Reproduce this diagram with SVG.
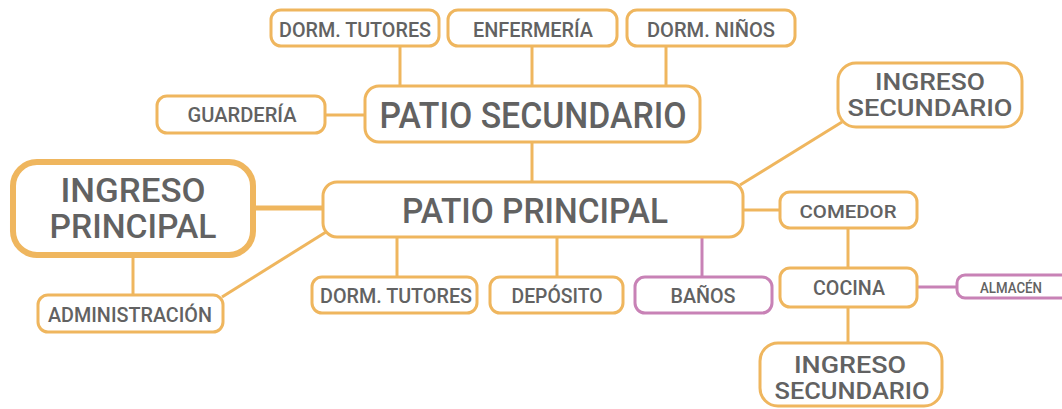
<svg xmlns="http://www.w3.org/2000/svg" width="1062" height="409" viewBox="0 0 1062 409">
<style>
.b{fill:#fff;stroke:#EFB65E;stroke-width:3}
.p{fill:#fff;stroke:#C882B6;stroke-width:3}
.c{stroke:#EFB65E;stroke-width:3;fill:none}
.cp{stroke:#C882B6;stroke-width:3;fill:none}
text{font-family:Roboto,"Liberation Sans",sans-serif;fill:#626262;text-anchor:middle;font-weight:500}
.s{font-size:21px}
.l{font-size:36px}
.m{font-size:24px}
</style>
<rect width="1062" height="409" fill="#fff"/>
<g id="connectors">
<line class="c" x1="400" y1="46" x2="400" y2="87"/>
<line class="c" x1="532" y1="46" x2="532" y2="87"/>
<line class="c" x1="666" y1="46" x2="666" y2="87"/>
<line class="c" x1="325" y1="115" x2="366" y2="115"/>
<line class="c" x1="532" y1="142" x2="532" y2="183"/>
<line class="c" x1="253" y1="208" x2="324" y2="208" style="stroke-width:5"/>
<line class="c" x1="133" y1="255" x2="133" y2="295"/>
<line class="c" x1="222" y1="297" x2="326" y2="232"/>
<line class="c" x1="397" y1="237" x2="397" y2="277"/>
<line class="c" x1="557" y1="237" x2="557" y2="277"/>
<line class="cp" x1="702" y1="237" x2="702" y2="277"/>
<line class="c" x1="842" y1="122" x2="740" y2="185"/>
<line class="c" x1="743" y1="210" x2="780" y2="210"/>
<line class="c" x1="848" y1="228" x2="848" y2="268"/>
<line class="cp" x1="917" y1="287" x2="957" y2="287"/>
<line class="c" x1="848" y1="307" x2="848" y2="343"/>
</g>
<g id="dorm-tutores-top"><rect class="b" x="271" y="10" width="168" height="36" rx="10"/><text class="s" x="355" y="37" textLength="152" lengthAdjust="spacingAndGlyphs">DORM. TUTORES</text></g>
<g id="enfermeria"><rect class="b" x="448" y="10" width="169" height="36" rx="10"/><text class="s" x="533" y="37" textLength="120" lengthAdjust="spacingAndGlyphs">ENFERMERÍA</text></g>
<g id="dorm-ninos"><rect class="b" x="627" y="10" width="168" height="36" rx="10"/><text class="s" x="711" y="37" textLength="128" lengthAdjust="spacingAndGlyphs">DORM. NIÑOS</text></g>
<g id="guarderia"><rect class="b" x="157" y="96" width="168" height="37" rx="10"/><text class="s" x="242" y="122" textLength="109" lengthAdjust="spacingAndGlyphs">GUARDERÍA</text></g>
<g id="patio-secundario"><rect class="b" x="365" y="86" width="335" height="56" rx="14"/><text class="l" x="533" y="128" textLength="307" lengthAdjust="spacingAndGlyphs">PATIO SECUNDARIO</text></g>
<g id="ingreso-secundario-top"><rect class="b" x="838" y="63" width="184" height="64" rx="18"/><text class="m" x="930" y="90" textLength="110" lengthAdjust="spacingAndGlyphs">INGRESO</text><text class="m" x="930" y="116" textLength="165" lengthAdjust="spacingAndGlyphs">SECUNDARIO</text></g>
<g id="ingreso-principal"><rect class="b" x="13" y="162" width="240" height="93" rx="24" style="stroke-width:6"/><text class="l" x="133" y="202" style="font-size:33px" textLength="145" lengthAdjust="spacingAndGlyphs">INGRESO</text><text class="l" x="133" y="238" style="font-size:33px" textLength="167" lengthAdjust="spacingAndGlyphs">PRINCIPAL</text></g>
<g id="patio-principal"><rect class="b" x="323" y="182" width="420" height="55" rx="14"/><text class="l" x="535" y="223" style="font-size:35px" textLength="266" lengthAdjust="spacingAndGlyphs">PATIO PRINCIPAL</text></g>
<g id="administracion"><rect class="b" x="38" y="295" width="185" height="37" rx="10"/><text class="s" x="130" y="322" textLength="164" lengthAdjust="spacingAndGlyphs">ADMINISTRACIÓN</text></g>
<g id="dorm-tutores-bottom"><rect class="b" x="312" y="277" width="165" height="36" rx="10"/><text class="s" x="396" y="303" textLength="152" lengthAdjust="spacingAndGlyphs">DORM. TUTORES</text></g>
<g id="deposito"><rect class="b" x="490" y="277" width="133" height="36" rx="10"/><text class="s" x="557" y="303" textLength="91" lengthAdjust="spacingAndGlyphs">DEPÓSITO</text></g>
<g id="banos"><rect class="p" x="635" y="277" width="137" height="36" rx="10"/><text class="s" x="703" y="303" textLength="65" lengthAdjust="spacingAndGlyphs">BAÑOS</text></g>
<g id="comedor"><rect class="b" x="780" y="192" width="137" height="36" rx="10"/><text class="s" x="848" y="218" style="font-size:19px" textLength="97" lengthAdjust="spacingAndGlyphs">COMEDOR</text></g>
<g id="cocina"><rect class="b" x="780" y="268" width="137" height="39" rx="10"/><text class="s" x="849" y="295" textLength="72" lengthAdjust="spacingAndGlyphs">COCINA</text></g>
<g id="almacen"><rect class="p" x="957" y="275" width="120" height="23" rx="8"/><text x="1011" y="293" style="font-size:14px" textLength="62" lengthAdjust="spacingAndGlyphs">ALMACÉN</text></g>
<g id="ingreso-secundario-bottom"><rect class="b" x="760" y="343" width="182" height="63" rx="18"/><text class="m" x="850" y="373" textLength="112" lengthAdjust="spacingAndGlyphs">INGRESO</text><text class="m" x="852" y="399" textLength="155" lengthAdjust="spacingAndGlyphs">SECUNDARIO</text></g>
</svg>
